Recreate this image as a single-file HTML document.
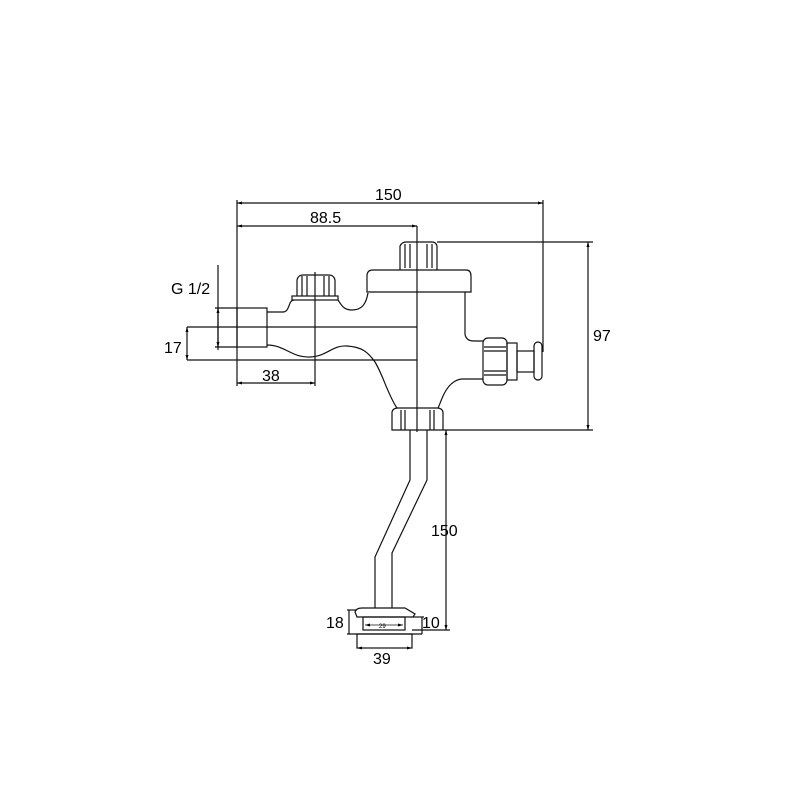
<!DOCTYPE html>
<html><head><meta charset="utf-8"><style>html,body{margin:0;padding:0;background:#fff}svg{display:block}</style></head>
<body>
<svg width="800" height="800" viewBox="0 0 800 800" xmlns="http://www.w3.org/2000/svg" font-family="Liberation Sans, sans-serif">
<defs><marker id="a" viewBox="0 0 10 10" refX="10" refY="5" markerWidth="7" markerHeight="5" orient="auto-start-reverse" markerUnits="userSpaceOnUse"><path d="M0,2 L10,5 L0,8z" fill="#000"/></marker></defs>
<g stroke="#111" stroke-width="1.2" fill="none">
<line x1="237" y1="200" x2="237" y2="386"/>
<line x1="237" y1="203" x2="543" y2="203" marker-start="url(#a)" marker-end="url(#a)"/>
<line x1="543" y1="200" x2="543" y2="352"/>
<line x1="237" y1="226" x2="417" y2="226" marker-start="url(#a)" marker-end="url(#a)"/>
<line x1="417" y1="226" x2="417" y2="432"/>
<line x1="315" y1="272" x2="315" y2="386"/>
<line x1="237" y1="383" x2="315" y2="383" marker-start="url(#a)" marker-end="url(#a)"/>
<line x1="187" y1="327" x2="417" y2="327"/>
<line x1="187" y1="360" x2="417" y2="360"/>
<line x1="187" y1="327" x2="187" y2="360" marker-start="url(#a)" marker-end="url(#a)"/>
<line x1="218" y1="265" x2="218" y2="350"/>
<line x1="215" y1="308" x2="237" y2="308"/>
<line x1="215" y1="347" x2="237" y2="347"/>
<line x1="218" y1="308" x2="218" y2="347" marker-start="url(#a)" marker-end="url(#a)"/>
<line x1="437" y1="242" x2="593" y2="242"/>
<line x1="443" y1="430" x2="593" y2="430"/>
<line x1="588" y1="242" x2="588" y2="430" marker-start="url(#a)" marker-end="url(#a)"/>
<line x1="446" y1="430" x2="446" y2="630" marker-start="url(#a)" marker-end="url(#a)"/>
<line x1="412" y1="630" x2="450" y2="630"/>
<rect x="237" y="308" width="30" height="39"/>
<path d="M267,312 L283,312 C290,312 288,300 294,300"/>
<rect x="292" y="296" width="46" height="4"/>
<path d="M297,296 L297,280 Q298,275 303,275 L329,275 Q334,275 335,280 L335,296"/>
<line x1="302" y1="276" x2="302" y2="296"/><line x1="307" y1="276" x2="307" y2="296"/>
<line x1="324" y1="276" x2="324" y2="296"/><line x1="329" y1="276" x2="329" y2="296"/>
<path d="M338,300 C342,306 344,310 352,310 C362,310 366,304 368,293"/>
<path d="M367,292 L367,276 Q367,270 373,270 L466,270 Q471,270 471,276 L471,292 Z"/>
<path d="M400,270 L400,246 Q402,242 406,242 L432,242 Q436,242 437,246 L437,270"/>
<line x1="405" y1="244" x2="405" y2="268"/><line x1="410" y1="244" x2="410" y2="268"/>
<line x1="427" y1="244" x2="427" y2="268"/><line x1="432" y1="244" x2="432" y2="268"/>
<path d="M267,345 C285,345 292,358 310,357 C328,356 332,345 347,346 C362,347 368,352 375,362 C383,375 388,395 397,408"/>
<path d="M465,292 L465,334 Q466,341 474,341 L483,341"/>
<path d="M483,379 L462,379 C452,380 447,388 444,394 C441,400 440,404 438,408"/>
<rect x="483" y="338" width="24" height="47" rx="5"/>
<line x1="484" y1="347" x2="506" y2="347"/><line x1="484" y1="351" x2="506" y2="351"/>
<line x1="484" y1="371" x2="506" y2="371"/><line x1="484" y1="375" x2="506" y2="375"/>
<rect x="507" y="343" width="10" height="37"/>
<rect x="517" y="351" width="17" height="21"/>
<rect x="534" y="342" width="8" height="38" rx="4"/>
<path d="M392,430 L392,412 Q393,408 398,408 L437,408 Q442,408 443,412 L443,430 Z"/>
<line x1="401" y1="410" x2="401" y2="430"/><line x1="405" y1="410" x2="405" y2="430"/>
<line x1="430" y1="410" x2="430" y2="430"/><line x1="434" y1="410" x2="434" y2="430"/>
<path d="M410,430 L410,480 L375,557 L375,608"/>
<path d="M427,430 L427,480 L392,553 L392,608"/>
<path d="M357,617 L355,612 Q356,608 362,608 L405,608 L415,614 L413,617 Z"/>
<rect x="363" y="617" width="42" height="13"/>
<rect x="357" y="634" width="55" height="14"/>
<line x1="347" y1="610" x2="357" y2="610"/>
<line x1="347" y1="634" x2="422" y2="634"/>
<line x1="349" y1="610" x2="349" y2="634"/>
<line x1="413" y1="617" x2="424" y2="617"/>
<line x1="422" y1="617" x2="422" y2="634"/>
<line x1="365" y1="625" x2="403" y2="625" stroke-width="0.7" marker-start="url(#a)" marker-end="url(#a)"/>
<line x1="357" y1="648" x2="412" y2="648" stroke-width="0.7" marker-start="url(#a)" marker-end="url(#a)"/>
</g>
<g font-size="16" fill="#000">
<text x="375" y="200">150</text>
<text x="310" y="223">88.5</text>
<text x="171" y="294">G 1/2</text>
<text x="164" y="353">17</text>
<text x="262" y="381">38</text>
<text x="593" y="341">97</text>
<text x="431" y="536">150</text>
<text x="326" y="628">18</text>
<text x="422" y="628">10</text>
<text x="373" y="664">39</text>
<text x="379" y="628" font-size="6">29</text>
</g>
</svg>
</body></html>
